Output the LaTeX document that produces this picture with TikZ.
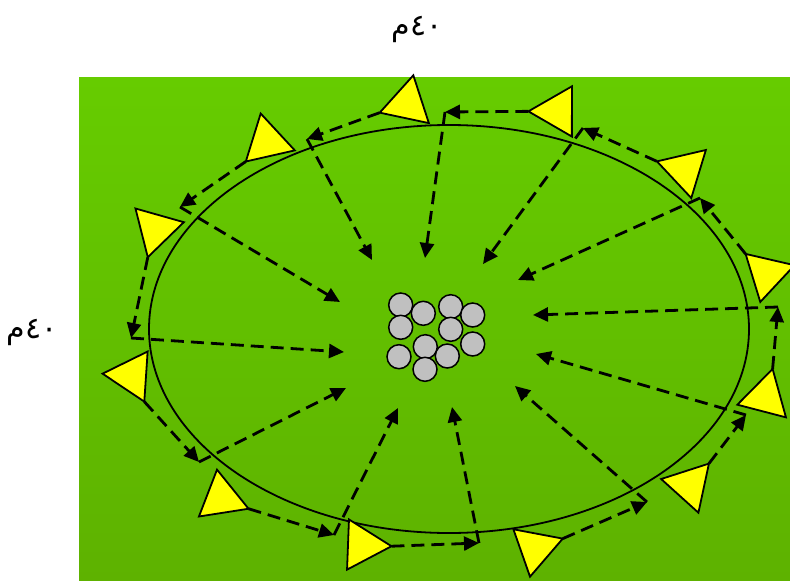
\documentclass[tikz,border=0pt]{standalone}
\usepackage{fontspec}
\usepackage{tikz}
\usetikzlibrary{shapes.geometric,arrows.meta}
\newfontfamily\arabicfont[Script=Arabic]{DejaVu Sans}
\TeXXeTstate=1
\definecolor{grassT}{HTML}{66CC00}
\definecolor{grassB}{HTML}{5EB200}
\definecolor{coneF}{HTML}{FFFF00}
\definecolor{ballF}{HTML}{C0C0C0}
\tikzset{
 cone/.style={regular polygon, regular polygon sides=3, draw, line width=1.8pt, fill=coneF,
              minimum size=58pt, inner sep=0pt, outer sep=0pt},
 ball/.style={circle, draw, line width=1.5pt, fill=ballF, minimum size=24pt, inner sep=0pt},
 track/.style={ellipse, draw, line width=1.8pt, minimum width=600pt, minimum height=408pt, inner sep=0pt},
 run/.style={-{Triangle[length=15pt,width=14pt]}, line width=2.8pt, dash pattern=on 13pt off 7pt},
 dist/.style={font=\arabicfont\fontsize{30}{34}\selectfont, anchor=base, inner sep=0pt},
}
\begin{document}
\begin{tikzpicture}[x=1pt,y=-1pt]
\useasboundingbox (0,0) rectangle (790,581);
% field
\shade[top color=grassT, bottom color=grassB] (79,77) rectangle (790,581);
\node[dist] (lenx) at (417,35) {\beginR ٤٠م\endR};
\node[dist] (leny) at (32,338) {\beginR ٤٠م\endR};
\node[track] (track) at (449,329) {};
% turning points on the run
\coordinate (p1) at (307,139);  \coordinate (q1) at (372,260);
\coordinate (p2) at (180,207);  \coordinate (q2) at (340,302);
\coordinate (p3) at (131,338);  \coordinate (q3) at (344,352);
\coordinate (p4) at (199,462);  \coordinate (q4) at (346,388);
\coordinate (p5) at (334,535);  \coordinate (q5) at (398,408);
\coordinate (p6) at (479,543);  \coordinate (q6) at (452,407);
\coordinate (p7) at (647,502);  \coordinate (q7) at (515,386);
\coordinate (p8) at (746,415);  \coordinate (q8) at (536,354);
\coordinate (p9) at (778,307);  \coordinate (q9) at (533,315);
\coordinate (p10) at (700,198); \coordinate (q10) at (518,280);
\coordinate (p11) at (583,128); \coordinate (q11) at (483,264);
\coordinate (p12) at (445,112); \coordinate (q12) at (425,258);
% cones
\node[cone, rotate=-12]   (c1) at (407.3,103.7) {};
\node[cone, rotate=12.8]  (c2) at (267.1,141.8) {};
\node[cone, rotate=44.2]  (c3) at (155.7,229.3) {};
\node[cone, rotate=-33.8] (c4) at (131.5,375.6) {};
\node[cone, rotate=8.9]   (c5) at (221.5,498.3) {};
\node[cone, rotate=27.8]  (c6) at (362.5,545.1) {};
\node[cone, rotate=49.3]  (c7) at (535.4,548.2) {};
\node[cone, rotate=-42.1] (c8) at (689.5,485.1) {};
\node[cone, rotate=-14.6] (c9) at (765.3,397) {};
\node[cone, rotate=47]    (c10) at (766.8,273.7) {};
\node[cone, rotate=73.1]  (c11) at (684.7,169.8) {};
\node[cone, rotate=-30.1] (c12) at (557.4,111.4) {};
% runs round the track
\draw[run] (c1.corner 2) -- (p1);
\draw[run] (c2.corner 2) -- (p2);
\draw[run] (c3.corner 2) -- (p3);
\draw[run] (c4.corner 3) -- (p4);
\draw[run] (c5.corner 3) -- (p5);
\draw[run] (c6.corner 3) -- (p6);
\draw[run] (c7.corner 3) -- (p7);
\draw[run] (c8.corner 1) -- (p8);
\draw[run] (c9.corner 1) -- (p9);
\draw[run] (c10.corner 1) -- (p10);
\draw[run] (c11.corner 1) -- (p11);
\draw[run] (c12.corner 2) -- (p12);
% sprints to the middle
\draw[run] (p1) -- (q1);
\draw[run] (p2) -- (q2);
\draw[run] (p3) -- (q3);
\draw[run] (p4) -- (q4);
\draw[run] (p5) -- (q5);
\draw[run] (p6) -- (q6);
\draw[run] (p7) -- (q7);
\draw[run] (p8) -- (q8);
\draw[run] (p9) -- (q9);
\draw[run] (p10) -- (q10);
\draw[run] (p11) -- (q11);
\draw[run] (p12) -- (q12);
% balls
\node[ball] (b1) at (400.7,305) {};
\node[ball] (b2) at (423.3,313.3) {};
\node[ball] (b3) at (450.7,306.7) {};
\node[ball] (b4) at (472.7,315) {};
\node[ball] (b5) at (400.7,327.3) {};
\node[ball] (b6) at (450.7,329.3) {};
\node[ball] (b7) at (472.7,344) {};
\node[ball] (b8) at (399,356.7) {};
\node[ball] (b9) at (425.3,346.7) {};
\node[ball] (b10) at (447.3,356) {};
\node[ball] (b11) at (425,369.3) {};
\end{tikzpicture}
\end{document}
